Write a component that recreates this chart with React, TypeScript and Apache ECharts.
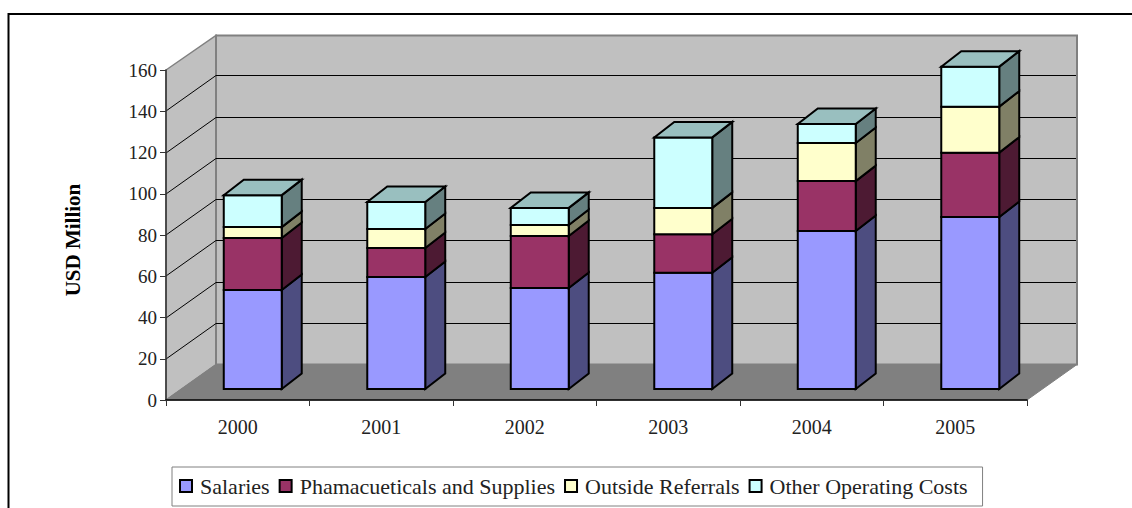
import React, { useEffect, useRef } from "react";
import * as echarts from "echarts";

const years = ["2000", "2001", "2002", "2003", "2004", "2005"];
const salaries = [48, 54.3, 49, 56.4, 76.6, 83.4];
const pharma = [25.2, 14.1, 25.2, 18.6, 24.2, 31.2];
const referrals = [5.3, 9.2, 5.3, 12.8, 18.5, 22.3];
const other = [15.5, 13.1, 8.3, 34.2, 9.2, 19.4];

const seriesDefs = [
  { name: "Salaries", values: salaries, front: "#9999FF", side: "#4D4D80" },
  { name: "Phamacueticals and Supplies", values: pharma, front: "#993366", side: "#4D1A33" },
  { name: "Outside Referrals", values: referrals, front: "#FFFFCC", side: "#808066" },
  { name: "Other Operating Costs", values: other, front: "#CCFFFF", side: "#668080" },
];
const TOP_FACE = "#99BFBF";
const FONT = "'Liberation Serif', serif";
const yTicks = [0, 20, 40, 60, 80, 100, 120, 140, 160];

const DX = 50, DY = -35.5;       // wall depth
const BX = 15, BY = -11;         // bar base offset from the front plane
const BDX = 20, BDY = -15.5;     // bar depth
const BAR_RATIO = 0.404;

const poly = (points: number[][], fill: string, stroke: any, lineWidth: number) => ({
  type: "polygon",
  shape: { points },
  style: { fill, stroke, lineWidth, lineJoin: "miter" },
});

function renderWalls(params: any, api: any) {
  const cs = params.coordSys;
  const l = cs.x, r = cs.x + cs.width;
  const y0 = api.coord([0, 0])[1];
  const yT = api.coord([0, 160])[1];
  const children: any[] = [
    poly([[l, yT], [l + DX, yT + DY + 1], [l + DX, y0 + DY], [l, y0]], "#C0C0C0", "#808080", 1.5),
    poly([[l + DX, yT + DY + 1], [r + DX, yT + DY + 1], [r + DX, y0 + DY], [l + DX, y0 + DY]], "#C0C0C0", "#808080", 2),
    poly([[l, y0], [l + DX, y0 + DY], [r + DX, y0 + DY], [r, y0]], "#808080", "#808080", 1),
  ];
  yTicks.slice(1, -1).forEach((v) => {
    const y = Math.round(api.coord([0, v])[1]);
    children.push({
      type: "polyline",
      shape: { points: [[l, y], [l + DX, y + DY], [r + DX - 1, y + DY]] },
      style: { fill: "none", stroke: "#000", lineWidth: 1 },
    });
  });
  return { type: "group", children };
}

function renderSegment(front: string, side: string, isTop: boolean) {
  return (params: any, api: any) => {
    const cat = api.value(0);
    const start = api.value(1);
    const end = api.value(2);
    const band = api.size([1, 0])[0];
    const cx = api.coord([cat, 0])[0] + BX;
    const y0 = api.coord([cat, 0])[1] + BY;
    const w = band * BAR_RATIO;
    const x1 = cx - w / 2, x2 = cx + w / 2;
    const ya = y0 - (y0 - BY - api.coord([cat, start])[1]);
    const yb = y0 - (y0 - BY - api.coord([cat, end])[1]);
    const children: any[] = [
      poly([[x2, ya], [x2 + BDX, ya + BDY], [x2 + BDX, yb + BDY], [x2, yb]], side, "#000", 2),
      poly([[x1, ya], [x2, ya], [x2, yb], [x1, yb]], front, "#000", 2),
    ];
    if (isTop) {
      children.push(poly([[x1, yb], [x2, yb], [x2 + BDX, yb + BDY], [x1 + BDX, yb + BDY]], TOP_FACE, "#000", 2));
    }
    return { type: "group", children };
  };
}

export default function App() {
  const ref = useRef<HTMLDivElement>(null);
  useEffect(() => {
    const chart = echarts.init(ref.current!, undefined, { renderer: "svg" });
    const cum = years.map(() => 0);
    const bars = seriesDefs.map((s, si) => {
      const data = s.values.map((v, i) => {
        const start = cum[i];
        cum[i] += v;
        return [i, start, cum[i]];
      });
      return {
        type: "custom",
        name: s.name,
        coordinateSystem: "cartesian2d",
        encode: { x: 0, y: [1, 2] },
        z: 3 + si,
        itemStyle: { color: s.front, borderColor: "#000", borderWidth: 2 },
        renderItem: renderSegment(s.front, s.side, si === seriesDefs.length - 1),
        data,
      };
    });
    chart.setOption({
      animation: false,
      backgroundColor: "#fff",
      grid: { left: 166, right: 105, top: 70, bottom: 108, containLabel: false },
      xAxis: {
        type: "category",
        data: years,
        boundaryGap: true,
        z: 10,
        axisLine: { lineStyle: { color: "#000", width: 1.5 } },
        axisTick: { show: true, length: 6, alignWithLabel: false, lineStyle: { color: "#333", width: 1 } },
        axisLabel: { fontFamily: FONT, fontSize: 20, color: "#222", margin: 17 },
      },
      yAxis: {
        type: "value",
        min: 0,
        max: 160,
        interval: 20,
        z: 10,
        name: "USD Million",
        nameLocation: "middle",
        nameGap: 83,
        nameTextStyle: { fontFamily: FONT, fontSize: 21, fontWeight: "bold", color: "#000", padding: [0, 0, 0, -10] },
        splitLine: { show: false },
        axisLine: { show: true, lineStyle: { color: "#333", width: 1.5 } },
        axisTick: { show: true, length: 6, lineStyle: { color: "#333", width: 1 } },
        axisLabel: { fontFamily: FONT, fontSize: 19, color: "#222", margin: 9 },
      },
      legend: {
        left: 172,
        top: 467,
        orient: "horizontal",
        itemWidth: 12,
        itemHeight: 12,
        itemGap: 9,
        padding: [8, 15, 9, 7],
        borderColor: "#808080",
        borderWidth: 1,
        backgroundColor: "#fff",
        icon: "rect",
        itemStyle: { borderColor: "#000", borderWidth: 2 },
        textStyle: { fontFamily: FONT, fontSize: 22, color: "#222", padding: [0, 0, 0, 3] },
        data: seriesDefs.map((s) => s.name),
      },
      graphic: [
        {
          type: "polyline",
          shape: { points: [[8.5, 508], [8.5, 14], [1132, 14]] },
          style: { fill: "none", stroke: "#000", lineWidth: 2 },
        },
      ],
      series: [
        {
          type: "custom",
          coordinateSystem: "cartesian2d",
          silent: true,
          z: 1,
          renderItem: renderWalls,
          data: [[0, 0]],
          encode: { x: 0, y: 1 },
        },
        ...bars,
      ],
    });
    return () => chart.dispose();
  }, []);
  return <div ref={ref} style={{ position: "fixed", left: 0, top: 0, width: 1132, height: 508 }} />;
}
